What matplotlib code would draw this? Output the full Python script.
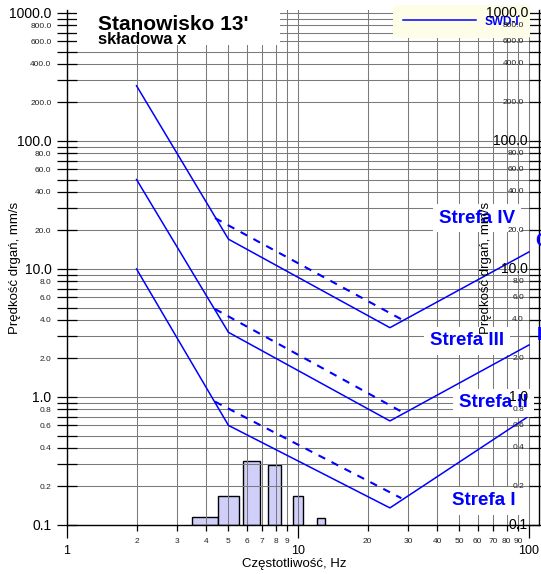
import numpy as np
import matplotlib
matplotlib.use("Agg")
import matplotlib.pyplot as plt
from matplotlib.lines import Line2D
from matplotlib.patches import Rectangle

plt.rcParams['font.family'] = ['Liberation Sans', 'DejaVu Sans']

# granice stref skali SWD-I (czestotliwosc Hz, predkosc mm/s)
f_zone = [2, 5, 25, 100]
v_zone_I = [10, 0.6, 0.136, 0.71]
v_zone_II = [50, 3.2, 0.65, 2.55]
v_zone_IV = [270, 17.1, 3.48, 13.6]

# linie przerywane
f_dash = [4.37, 28.0]
v_dash_I = [0.92, 0.162]
v_dash_II = [4.87, 0.77]
v_dash_IV = [25.0, 4.05]

# pomiar - pasma tercjowe
f_lo = [3.49, 4.52, 5.80, 7.45, 9.48, 12.08]
f_hi = [4.52, 5.54, 6.85, 8.47, 10.54, 13.13]
amp = [0.115, 0.168, 0.316, 0.293, 0.168, 0.114]

zone_names = ['Strefa IV', 'Strefa III', 'Strefa II', 'Strefa I']
zone_pos_f = [40.8, 37.3, 49.8, 46.4]
zone_pos_v = [25.0, 2.74, 0.90, 0.154]

y_major = [0.1, 1, 10, 100, 1000]
y_minor = [k * 10.0**e for e in range(-1, 3) for k in range(2, 10)]
x_major = [1, 10, 100]
x_minor = [k * 10.0**e for e in range(0, 2) for k in range(2, 10)]

blue = '#0000ff'
W, H = 541, 574

fig = plt.figure(figsize=(W / 100, H / 100), dpi=100)
ax = fig.add_axes([67 / W, 49 / H, 472 / W, 515 / H])
ax.set_xscale('log')
ax.set_yscale('log')
ax.set_xlim(1, 10**(472 / 231))
ax.set_ylim(0.1, 10**(3 + 3 / 128))

# slupki
ax.bar(f_lo, np.array(amp) - 0.1, width=np.array(f_hi) - np.array(f_lo), bottom=0.1,
       align='edge', color='#cfcffa', edgecolor='black', linewidth=1.0, zorder=1)

# linie stref
for v in (v_zone_I, v_zone_II, v_zone_IV):
    ax.plot(f_zone, v, color=blue, lw=1.1, zorder=3)
for v in (v_dash_I, v_dash_II, v_dash_IV):
    ax.plot(f_dash, v, color=blue, lw=1.5, linestyle=(0, (3.6, 3.4)), zorder=3)

# osie
def fmt(v):
    return '%.1f' % v

def even(v):
    return round(v / 10**np.floor(np.log10(v))) % 2 == 0

ax.set_yticks(y_major, labels=[fmt(v) for v in y_major])
ax.set_yticks(y_minor, labels=[fmt(v) if even(v) else '' for v in y_minor], minor=True)
ax.set_xticks(x_major, labels=['1', '10', '100'])
ax.set_xticks(x_minor, labels=['%d' % v for v in x_minor], minor=True)

ax.tick_params(axis='y', which='both', direction='inout', length=14.4, width=0.9,
               right=True, labelright=False, pad=4)
ax.tick_params(axis='y', which='major', labelsize=10)
ax.tick_params(axis='y', which='minor', labelsize=6, labelcolor='#222222')
ax.tick_params(axis='x', which='major', direction='out', length=9, width=0.9,
               labelsize=9, pad=5.5)
ax.tick_params(axis='x', which='minor', direction='out', length=4.3, width=0.9,
               labelsize=6, pad=5, labelcolor='#222222')
ax.grid(which='both', color='#7a7a7a', lw=0.75)
ax.spines['top'].set_visible(False)
for s in ('left', 'right', 'bottom'):
    ax.spines[s].set_linewidth(1.0)

# opisy osi z prawej (wewnatrz)
yt = ax.get_yaxis_transform()
for v in y_major:
    ax.text(0.9767, v, fmt(v), transform=yt, ha='right', va='center', fontsize=10, zorder=6)
for v in y_minor:
    if even(v):
        ax.text(0.9682, v, fmt(v), transform=yt, ha='right', va='center', fontsize=6,
                color='#222222', zorder=6)

# strefy
for name, f, v in zip(zone_names, zone_pos_f, zone_pos_v):
    ax.text(f, v, name, color=blue, fontsize=13.5, fontweight='bold', ha='left', va='center',
            bbox=dict(fc='white', ec='none', pad=4), zorder=4)

# tytul
ax.add_patch(Rectangle((77 / W, 1 - 45 / H), 203 / W, 45 / H, transform=fig.transFigure,
                       fc='white', ec='none', zorder=1.6))
fig.text(98 / W, 1 - 30 / H, "Stanowisko 13'", fontsize=15, fontweight='bold', va='baseline')
fig.text(98 / W, 1 - 44 / H, "składowa x", fontsize=12, fontweight='bold', va='baseline')

leg = ax.legend(handles=[Line2D([], [], color=blue, lw=1.1)], labels=['SWD-I'],
                loc='upper right', bbox_to_anchor=(530 / W, 1 - 5 / H),
                bbox_transform=fig.transFigure, prop=dict(weight='bold', size=8.5),
                labelcolor=blue, facecolor='#fdfde8', edgecolor='none', framealpha=1,
                fancybox=True, handlelength=6.2, handletextpad=0.7, borderpad=0.9,
                borderaxespad=0)
leg.set_zorder(5)

fig.text(15 / W, 1 - 268 / H, 'Prędkość drgań, mm/s', rotation=90, ha='center', va='center',
         fontsize=9.5)
fig.text(486 / W, 1 - 268 / H, 'Prędkość drgań, mm/s', rotation=90, ha='center', va='center',
         fontsize=9.5)
fig.text(294 / W, 1 - 564 / H, 'Częstotliwość, Hz', ha='center', va='center', fontsize=9.5)

# obciete napisy przy prawej krawedzi
fig.text(535 / W, 1 - 241 / H, 'C', color=blue, fontsize=13.5, fontweight='bold', va='center')
fig.text(537 / W, 1 - 335 / H, 'I', color=blue, fontsize=13.5, fontweight='bold', va='center')

fig.savefig('out.png', dpi=100)
